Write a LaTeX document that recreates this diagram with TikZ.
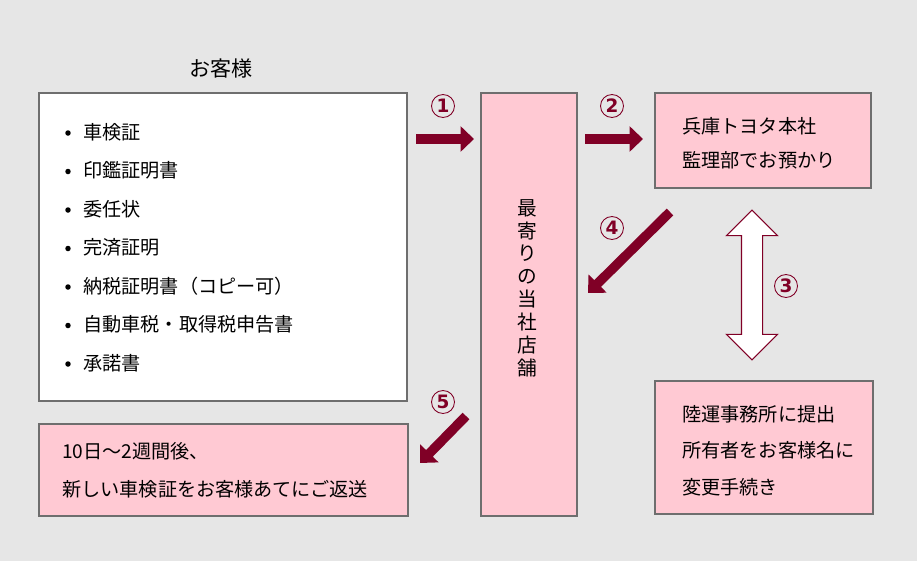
\documentclass[tikz,border=0pt]{standalone}
\usepackage{fontspec}
\setmainfont{Noto Sans CJK JP}
\newfontfamily\numfont{DejaVu Sans}
\usetikzlibrary{arrows.meta,shapes.arrows}
\definecolor{bggray}{RGB}{230,230,230}
\definecolor{boxgray}{RGB}{110,110,110}
\definecolor{boxpink}{RGB}{255,201,211}
\definecolor{flowred}{RGB}{128,0,38}
\begin{document}
\begin{tikzpicture}[x=0.02cm,y=-0.02cm,
    box/.style={draw=boxgray,line width=0.7pt,inner sep=0pt},
    txt/.style={anchor=west,inner sep=0pt,font=\fontsize{10.9}{12}\selectfont},
    flow/.style={draw=flowred,line width=0.19cm,-{Triangle[length=0.27cm,width=0.5cm]}},
    num/.style={circle,draw=flowred,text=flowred,line width=0.5pt,minimum size=0.46cm,
      inner sep=0pt,font=\numfont\bfseries\fontsize{10.5}{10.5}\selectfont}]
  % background and frame
  \fill[bggray] (0,0) rectangle (917,561);
  \node[font=\fontsize{12}{14}\selectfont] (title) at (221,68) {お客様};
  % boxes
  \node[box,fill=white,minimum width=7.36cm,minimum height=6.16cm] (cust) at (223,247) {};
  \node[box,fill=boxpink,minimum width=1.92cm,minimum height=8.46cm] (shop) at (529,304.5) {};
  \node[box,fill=boxpink,minimum width=4.32cm,minimum height=1.9cm] (hq) at (763,140.5) {};
  \node[box,fill=boxpink,minimum width=4.36cm,minimum height=2.66cm] (riku) at (764,447.5) {};
  \node[box,fill=boxpink,minimum width=7.38cm,minimum height=1.84cm] (back) at (223.5,470) {};
  % documents
  \foreach \t [count=\i] in {車検証,印鑑証明書,委任状,完済証明,納税証明書（コピー可）,自動車税・取得税申告書,承諾書}{
    \node[txt] (doc\i) at (83,{132+38.5*(\i-1)}) {\t};
    \node[circle,fill=black,inner sep=0pt,minimum size=0.11cm] (dot\i) at (68,{133+38.5*(\i-1)}) {};
  }
  \node[align=center,inner sep=0pt,font=\fontsize{11.2}{13}\selectfont] (shoptxt) at (527,288)
    {最\\寄\\り\\の\\当\\社\\店\\舗};
  \node[txt] (hq1) at (682,126) {兵庫トヨタ本社};
  \node[txt] (hq2) at (682,160) {監理部でお預かり};
  \node[txt] (riku1) at (682,414) {陸運事務所に提出};
  \node[txt] (riku2) at (682,450) {所有者をお客様名に};
  \node[txt] (riku3) at (682,487) {変更手続き};
  \node[txt] (back1) at (62,451) {10日〜2週間後、};
  \node[txt] (back2) at (62,489) {新しい車検証をお客様あてにご返送};
  % flow arrows
  \coordinate (a1s) at (416,139);
  \coordinate (a1e) at (474,139);
  \coordinate (a2s) at (585,139);
  \coordinate (a2e) at (643,139);
  \coordinate (a4s) at (670,212);
  \coordinate (a4e) at (588,293);
  \coordinate (a5s) at (466,416);
  \coordinate (a5e) at (420,463);
  \draw[flow] (a1s) -- (a1e);
  \draw[flow] (a2s) -- (a2e);
  \draw[flow] (a4s) -- (a4e);
  \draw[flow] (a5s) -- (a5e);
  \node[double arrow,draw=flowred,fill=white,line width=0.6pt,rotate=90,
    minimum height=3cm,inner sep=0.2cm,
    double arrow head extend=0.3cm] (a3) at (752,285) {};
  % step numbers
  \node[num] (n1) at (443,106) {1};
  \node[num] (n2) at (612,106) {2};
  \node[num] (n3) at (786,286) {3};
  \node[num] (n4) at (612,228) {4};
  \node[num] (n5) at (443,402) {5};
\end{tikzpicture}
\end{document}
